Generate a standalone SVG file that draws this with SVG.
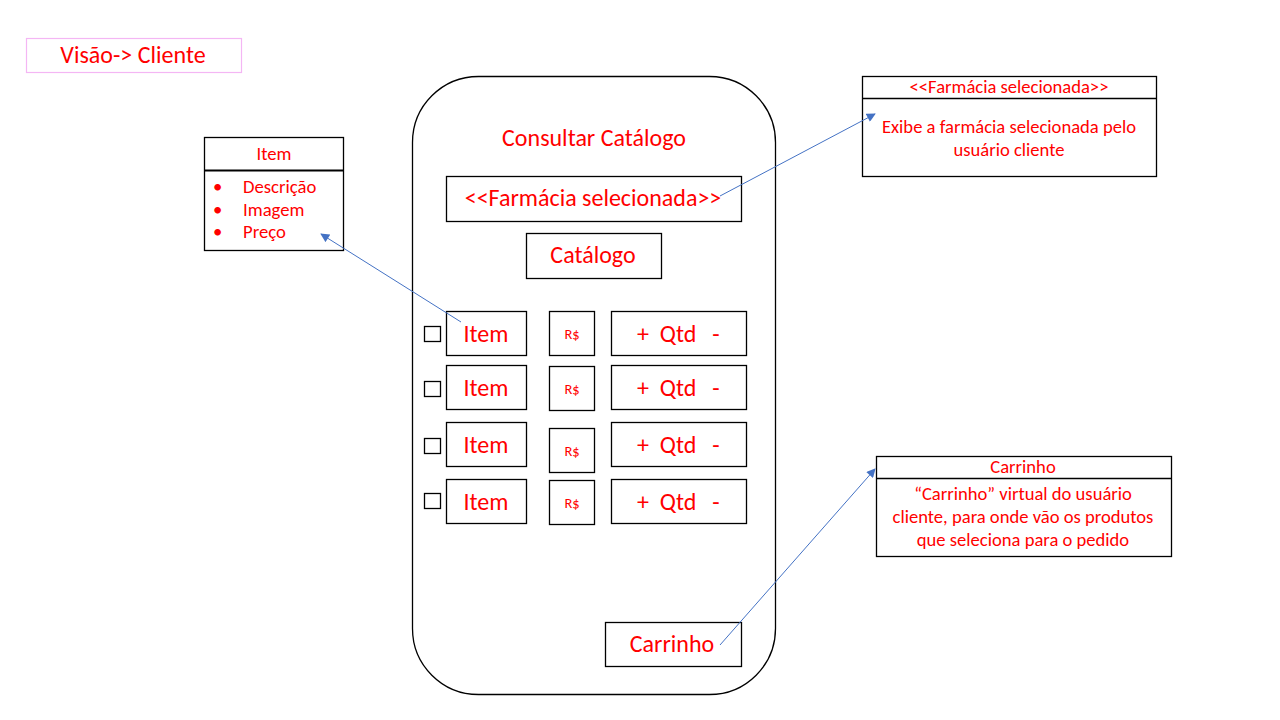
<svg xmlns="http://www.w3.org/2000/svg" width="1280" height="720" viewBox="0 0 1280 720">
<style>
text{font-family:Carlito,Lato,"Liberation Sans",sans-serif;fill:#ff0000;text-anchor:middle}
.b{fill:#fff;stroke:#000;stroke-width:1.3}
.t22{font-size:24px}
.t16{font-size:18.7px}
.t15{font-size:18.6px}
.t12{font-size:14.5px}
.l{text-anchor:start}
.c{stroke:#4472c4;stroke-width:1;fill:none;marker-end:url(#ah)}
</style>
<defs>
<marker id="ah" viewBox="0 0 10 10" refX="9" refY="5" markerWidth="10" markerHeight="9" markerUnits="userSpaceOnUse" orient="auto">
<path d="M0,0 L10,5 L0,10 z" fill="#4472c4"/>
</marker>
</defs>
<rect width="1280" height="720" fill="#fff"/>
<g id="titulo">
<rect x="26.5" y="38.5" width="215" height="34" fill="#fff" stroke="#f4b6f4" stroke-width="1.2"/>
<text x="133" y="63" class="t22">Visão-&gt; Cliente</text>
</g>
<g id="item-info">
<rect x="204.5" y="137.5" width="139" height="113" class="b"/>
<line x1="204.5" y1="170.5" x2="343.5" y2="170.5" stroke="#000" stroke-width="2"/>
<text x="274" y="160" class="t16">Item</text>
<text x="213" y="193" class="t16 l">•</text>
<text x="243" y="193" class="t16 l">Descrição</text>
<text x="213" y="216" class="t16 l">•</text>
<text x="243" y="216" class="t16 l">Imagem</text>
<text x="213" y="238" class="t16 l">•</text>
<text x="243" y="238" class="t16 l">Preço</text>
</g>
<g id="tela">
<rect x="412.5" y="76.5" width="363" height="618" rx="66" ry="66" class="b"/>
<text x="594" y="146" class="t22">Consultar Catálogo</text>
</g>
<g id="farmacia">
<rect x="446.5" y="176.5" width="295" height="45" class="b"/>
<text x="593" y="206" class="t22">&lt;&lt;Farmácia selecionada&gt;&gt;</text>
</g>
<g id="catalogo">
<rect x="526.5" y="233.5" width="135" height="45" class="b"/>
<text x="593" y="263" class="t22">Catálogo</text>
</g>
<g id="linha1">
<rect x="424.5" y="326.5" width="16" height="15" class="b"/>
<rect x="446.5" y="311.5" width="80" height="44" class="b"/>
<text x="486" y="342" class="t22">Item</text>
<rect x="549.5" y="311.5" width="45" height="44" class="b"/>
<text x="572" y="339" class="t12">R$</text>
<rect x="611.5" y="311.5" width="135" height="44" class="b"/>
<text x="643" y="342" class="t22">+</text><text x="678" y="342" class="t22">Qtd</text><text x="716" y="342" class="t22">-</text>
</g>
<g id="linha2">
<rect x="424.5" y="381.5" width="16" height="15" class="b"/>
<rect x="446.5" y="365.5" width="80" height="44" class="b"/>
<text x="486" y="396" class="t22">Item</text>
<rect x="549.5" y="366.5" width="45" height="44" class="b"/>
<text x="572" y="394" class="t12">R$</text>
<rect x="611.5" y="365.5" width="135" height="44" class="b"/>
<text x="643" y="396" class="t22">+</text><text x="678" y="396" class="t22">Qtd</text><text x="716" y="396" class="t22">-</text>
</g>
<g id="linha3">
<rect x="424.5" y="438.5" width="16" height="15" class="b"/>
<rect x="446.5" y="422.5" width="80" height="44" class="b"/>
<text x="486" y="453" class="t22">Item</text>
<rect x="549.5" y="428.5" width="45" height="44" class="b"/>
<text x="572" y="456" class="t12">R$</text>
<rect x="611.5" y="422.5" width="135" height="44" class="b"/>
<text x="643" y="453" class="t22">+</text><text x="678" y="453" class="t22">Qtd</text><text x="716" y="453" class="t22">-</text>
</g>
<g id="linha4">
<rect x="424.5" y="493.5" width="16" height="15" class="b"/>
<rect x="446.5" y="479.5" width="80" height="44" class="b"/>
<text x="486" y="510" class="t22">Item</text>
<rect x="549.5" y="480.5" width="45" height="44" class="b"/>
<text x="572" y="508" class="t12">R$</text>
<rect x="611.5" y="479.5" width="135" height="44" class="b"/>
<text x="643" y="510" class="t22">+</text><text x="678" y="510" class="t22">Qtd</text><text x="716" y="510" class="t22">-</text>
</g>
<g id="carrinho-btn">
<rect x="605.5" y="622.5" width="136" height="44" class="b"/>
<text x="672" y="652" class="t22">Carrinho</text>
</g>
<g id="farmacia-info">
<rect x="862.5" y="76.5" width="294" height="100" class="b"/>
<line x1="862.5" y1="98.5" x2="1156.5" y2="98.5" stroke="#000" stroke-width="1.3"/>
<text x="1009" y="93" class="t15">&lt;&lt;Farmácia selecionada&gt;&gt;</text>
<text x="1009" y="133" class="t15">Exibe a farmácia selecionada pelo</text>
<text x="1009" y="156" class="t15">usuário cliente</text>
</g>
<g id="carrinho-info">
<rect x="876.5" y="456.5" width="295" height="100" class="b"/>
<line x1="876.5" y1="478.5" x2="1171.5" y2="478.5" stroke="#000" stroke-width="1.3"/>
<text x="1023" y="473" class="t15">Carrinho</text>
<text x="1023" y="500" class="t15">“Carrinho” virtual do usuário</text>
<text x="1023" y="523" class="t15">cliente, para onde vão os produtos</text>
<text x="1023" y="546" class="t15">que seleciona para o pedido</text>
</g>
<g id="conectores">
<line x1="461" y1="322" x2="321" y2="234" class="c"/>
<line x1="720" y1="196" x2="875" y2="114" class="c"/>
<line x1="720" y1="645" x2="875" y2="469" class="c"/>
</g>
</svg>
